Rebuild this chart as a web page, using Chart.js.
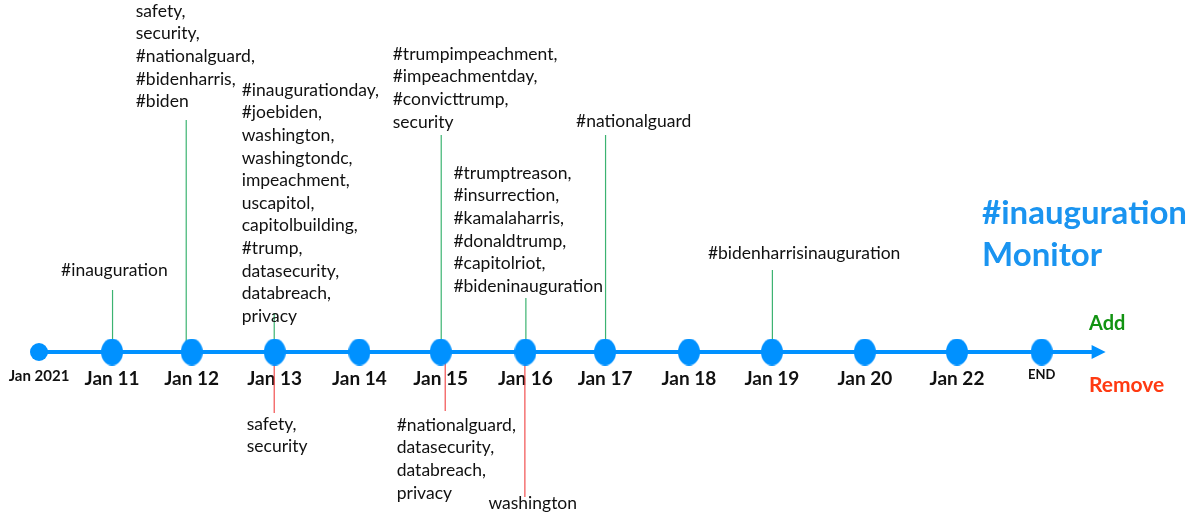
<!DOCTYPE html>
<html>
<head>
<meta charset="utf-8">
<script src="https://cdn.jsdelivr.net/npm/chart.js@4/dist/chart.umd.min.js"></script>
<style>
  html, body { margin: 0; padding: 0; background: #fff; }
  #wrap { width: 1190px; height: 516px; position: relative; }
</style>
</head>
<body>
<div id="wrap"><canvas id="chart"></canvas></div>
<script>
// timeline stops
const dateLabels = ['Jan 2021', 'Jan 11', 'Jan 12', 'Jan 13', 'Jan 14', 'Jan 15', 'Jan 16',
  'Jan 17', 'Jan 18', 'Jan 19', 'Jan 20', 'Jan 22', 'END'];
const datePositions = [0, 0.88, 1.84, 2.84, 3.86, 4.84, 5.86, 6.82, 7.83, 8.83, 9.95, 11.06, 12.08];

// hashtags added on each date
const addedTags = {
  'Jan 11': ['#inauguration'],
  'Jan 12': ['safety,', 'security,', '#nationalguard,', '#bidenharris,', '#biden'],
  'Jan 13': ['#inaugurationday,', '#joebiden,', 'washington,', 'washingtondc,', 'impeachment,',
    'uscapitol,', 'capitolbuilding,', '#trump,', 'datasecurity,', 'databreach,', 'privacy'],
  'Jan 15': ['#trumpimpeachment,', '#impeachmentday,', '#convicttrump,', 'security'],
  'Jan 16': ['#trumptreason,', '#insurrection,', '#kamalaharris,', '#donaldtrump,',
    '#capitolriot,', '#bideninauguration'],
  'Jan 17': ['#nationalguard'],
  'Jan 19': ['#bidenharrisinauguration']
};

// hashtags removed on each date
const removedTags = {
  'Jan 13': ['safety,', 'security'],
  'Jan 15': ['#nationalguard,', 'datasecurity,', 'databreach,', 'privacy'],
  'Jan 16': ['washington']
};

// where each label block sits (stem end / text offset, px)
const addLayout = {
  'Jan 11': { stemTop: 290, textTop: 262, dx: -51, stemDx: 0 },
  'Jan 12': { stemTop: 120, textTop: 2.5, dx: -56, stemDx: -6 },
  'Jan 13': { stemTop: 313, textTop: 81.5, dx: -33, stemDx: -1 },
  'Jan 15': { stemTop: 135, textTop: 45.5, dx: -48, stemDx: 0 },
  'Jan 16': { stemTop: 298, textTop: 164.5, dx: -72, stemDx: 0 },
  'Jan 17': { stemTop: 135, textTop: 112.5, dx: -29, stemDx: 0 },
  'Jan 19': { stemTop: 270, textTop: 244.5, dx: -64, stemDx: 0 }
};
const removeLayout = {
  'Jan 13': { stemBottom: 413, textTop: 415.5, dx: -28, stemDx: -1 },
  'Jan 15': { stemBottom: 411, textTop: 416.5, dx: -44, stemDx: 4 },
  'Jan 16': { stemBottom: 497, textTop: 494.5, dx: -37, stemDx: -1 }
};

const BLUE = '#0091ff';
const FONT = 'Lato, "Open Sans", sans-serif';
const LINE_H = 22.6;

function ellipseDot(w, h) {
  const c = document.createElement('canvas');
  c.width = w; c.height = h;
  const g = c.getContext('2d');
  g.fillStyle = BLUE;
  g.beginPath();
  g.ellipse(w / 2, h / 2, w / 2, h / 2, 0, 0, Math.PI * 2);
  g.fill();
  return c;
}
const bigDot = ellipseDot(22, 27);
const smallDot = ellipseDot(18, 18);

const points = datePositions.map(v => ({ x: v, y: 0 }));

const annotations = {
  id: 'annotations',
  beforeDatasetsDraw(chart) {
    const ctx = chart.ctx;
    const xs = chart.scales.x;
    const ys = chart.scales.y;
    const y0 = ys.getPixelForValue(0);
    ctx.save();
    // main axis + arrow head
    const xEnd = xs.getPixelForValue(datePositions[datePositions.length - 1]);
    ctx.strokeStyle = BLUE;
    ctx.lineWidth = 4;
    ctx.beginPath();
    ctx.moveTo(xs.getPixelForValue(datePositions[0]), y0);
    ctx.lineTo(xEnd + 52, y0);
    ctx.stroke();
    ctx.fillStyle = BLUE;
    ctx.beginPath();
    ctx.moveTo(xEnd + 50, y0 - 7);
    ctx.lineTo(xEnd + 64, y0);
    ctx.lineTo(xEnd + 50, y0 + 7);
    ctx.closePath();
    ctx.fill();

    ctx.lineWidth = 1.2;
    dateLabels.forEach((lab, i) => {
      const x = xs.getPixelForValue(datePositions[i]);
      if (addedTags[lab]) {
        const l = addLayout[lab];
        ctx.strokeStyle = '#3cb371';
        ctx.beginPath();
        ctx.moveTo(x + l.stemDx + 0.5, y0);
        ctx.lineTo(x + l.stemDx + 0.5, l.stemTop);
        ctx.stroke();
      }
      if (removedTags[lab]) {
        const l = removeLayout[lab];
        ctx.strokeStyle = '#f25050';
        ctx.beginPath();
        ctx.moveTo(x + l.stemDx + 0.5, y0);
        ctx.lineTo(x + l.stemDx + 0.5, l.stemBottom);
        ctx.stroke();
      }
    });
    ctx.restore();
  },
  afterDatasetsDraw(chart) {
    const ctx = chart.ctx;
    const xs = chart.scales.x;
    ctx.save();
    ctx.fillStyle = '#111';
    ctx.font = '17.5px ' + FONT;
    ctx.textAlign = 'left';
    ctx.textBaseline = 'top';
    dateLabels.forEach((lab, i) => {
      const x = xs.getPixelForValue(datePositions[i]);
      if (addedTags[lab]) {
        const l = addLayout[lab];
        addedTags[lab].forEach((t, k) => ctx.fillText(t, x + l.dx, l.textTop + k * LINE_H));
      }
      if (removedTags[lab]) {
        const l = removeLayout[lab];
        removedTags[lab].forEach((t, k) => ctx.fillText(t, x + l.dx, l.textTop + k * LINE_H));
      }
    });

    // title + legend words
    ctx.fillStyle = '#1a94f0';
    ctx.font = 'bold 33px ' + FONT;
    ctx.textBaseline = 'middle';
    ctx.fillText('#inauguration', 982, 213);
    ctx.fillText('Monitor', 982, 255);
    ctx.font = 'bold 20px ' + FONT;
    ctx.fillStyle = '#129312';
    ctx.fillText('Add', 1089, 324);
    ctx.fillStyle = '#ff3a12';
    ctx.font = 'bold 21px ' + FONT;
    ctx.fillText('Remove', 1089, 385);
    ctx.restore();
  }
};

new Chart(document.getElementById('chart'), {
  type: 'scatter',
  data: {
    datasets: [{
      data: points,
      pointStyle: points.map((p, i) => i === 0 ? smallDot : bigDot),
      pointHoverRadius: 0
    }]
  },
  options: {
    responsive: true,
    maintainAspectRatio: false,
    animation: false,
    layout: { padding: 0, autoPadding: false },
    plugins: { legend: { display: false }, tooltip: { enabled: false } },
    scales: {
      x: {
        type: 'linear',
        min: -39 / 83,
        max: (1190 - 39) / 83,
        position: { y: 0 },
        grid: { display: false },
        border: { display: false },
        afterBuildTicks: axis => { axis.ticks = datePositions.map(v => ({ value: v })); },
        ticks: {
          autoSkip: false,
          maxRotation: 0,
          padding: 7,
          color: '#111',
          font: c => {
            if (c.index === 0) return { family: FONT, weight: 'bold', size: 15 };
            if (c.index === dateLabels.length - 1) return { family: FONT, weight: 'bold', size: 13 };
            return { family: FONT, weight: 'bold', size: 19 };
          },
          callback: (v, i) => dateLabels[i]
        }
      },
      y: {
        display: false,
        min: -164,
        max: 352
      }
    }
  },
  plugins: [annotations]
});
</script>
</body>
</html>
